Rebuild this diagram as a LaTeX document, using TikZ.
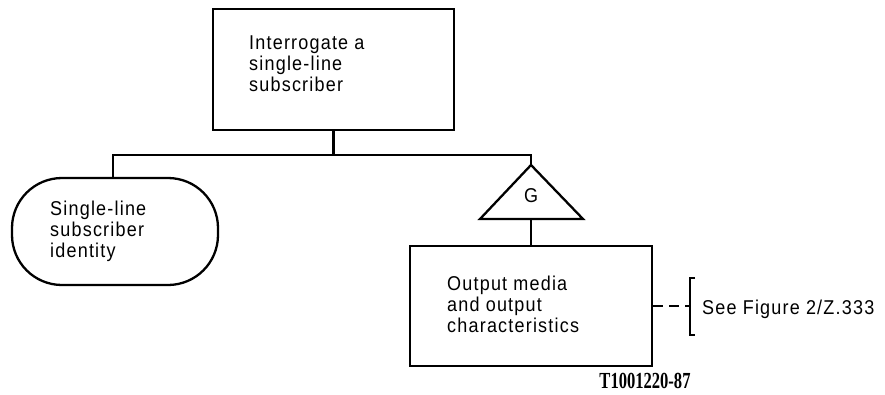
\documentclass[tikz,border=0pt]{standalone}
\usepackage{fontspec}
\setmainfont{Liberation Sans}[FakeStretch=0.9, LetterSpace=6]
\newfontfamily\codefont{Liberation Serif}[FakeStretch=0.72]
\tikzset{
  line/.style={line width=2.3pt},
  boxnode/.style={draw, line width=2.3pt, inner sep=0pt},
  lbl/.style={inner sep=0pt, align=left, font=\fontsize{20}{21}\selectfont},
}
\newcommand{\firstline}{\rule{0pt}{15pt}}
\begin{document}
\begin{tikzpicture}[x=1pt, y=-1pt]
\useasboundingbox (0,0) rectangle (885,394);
% boxes
\node[boxnode, minimum width=241pt, minimum height=121pt] (top) at (333.5,69.5) {};
\node[lbl, anchor=north west] (toptext) at (249,34) {\firstline Interrogate a\\single-line\\subscriber};
\node[boxnode, rounded corners=50pt, minimum width=206pt, minimum height=107pt] (ident) at (115,231.5) {};
\node[lbl, anchor=north west] (identtext) at (50,200) {\firstline Single-line\\subscriber\\identity};
\node[boxnode, minimum width=242pt, minimum height=120pt] (out) at (531,306) {};
\node[lbl, anchor=north west] (outtext) at (447,275) {\firstline Output media\\and output\\characteristics};
% gate triangle
\coordinate (gapex) at (531,165);
\coordinate (gbl) at (480,219);
\coordinate (gbr) at (583,219);
\coordinate (gbase) at (531,219);
\draw[line, line join=miter] (gapex) -- (gbr) -- (gbl) -- cycle;
\node[lbl, font=\fontsize{20}{21}\selectfont] (gate) at (531,196) {G};
% tree connectors
\coordinate (bl) at (113,155);
\coordinate (br) at (531,155);
\draw[line] (top.south) -- (top.south |- bl);
\draw[line] (ident.north -| bl) -- (bl) -- (br) -- (gapex);
\draw[line] (gbase) -- (out.north);
% reference bracket
\coordinate (brk) at (690,306);
\draw[line, dash pattern=on 10pt off 6pt] (out.east) -- (brk);
\draw[line] (brk) ++(5,-28) -- ++(-5,0) -- ++(0,57) -- ++(5,0);
\node[lbl, anchor=base west] (see) at (702,314) {See Figure 2/Z.333};
\node[inner sep=0pt, anchor=base, font=\codefont\bfseries\fontsize{23}{24}\selectfont] (code) at (645,388) {T1001220-87};
\end{tikzpicture}
\end{document}
